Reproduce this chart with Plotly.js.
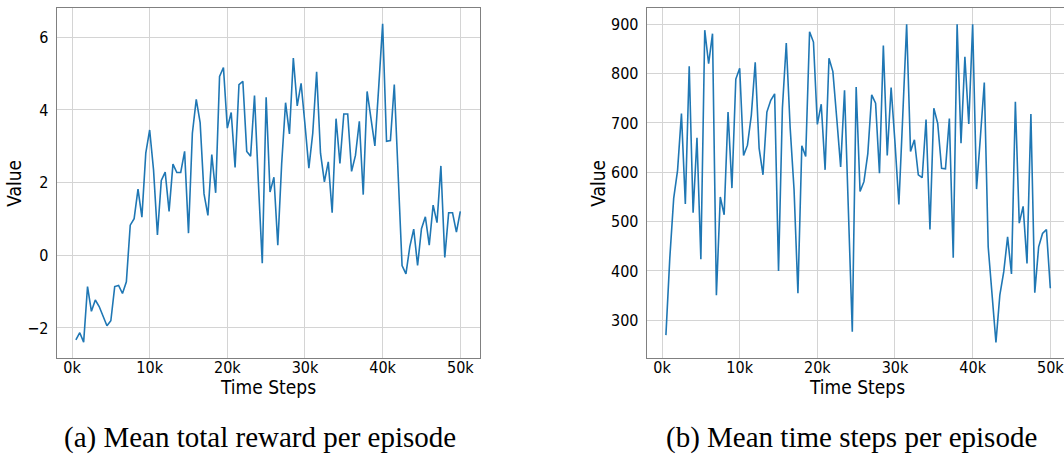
<!DOCTYPE html>
<html>
<head>
<meta charset="utf-8">
<script src="https://cdn.plot.ly/plotly-3.0.1.min.js"></script>
<style>html,body{margin:0;padding:0;background:#fff;}#chart{width:1064px;height:459px;}</style>
</head>
<body>
<div id="chart"></div>
<script>
const steps = [500,1000,1500,2000,2500,3000,3500,4000,4500,5000,5500,6000,6500,7000,7500,8000,8500,9000,9500,10000,
10500,11000,11500,12000,12500,13000,13500,14000,14500,15000,15500,16000,16500,17000,17500,18000,18500,19000,19500,20000,
20500,21000,21500,22000,22500,23000,23500,24000,24500,25000,25500,26000,26500,27000,27500,28000,28500,29000,29500,30000,
30500,31000,31500,32000,32500,33000,33500,34000,34500,35000,35500,36000,36500,37000,37500,38000,38500,39000,39500,40000,
40500,41000,41500,42000,42500,43000,43500,44000,44500,45000,45500,46000,46500,47000,47500,48000,48500,49000,49500,50000];

const meanReward = [-2.33,-2.13,-2.39,-0.86,-1.54,-1.23,-1.41,-1.69,-1.94,-1.80,
-0.86,-0.83,-1.05,-0.73,0.83,1.01,1.82,1.05,2.81,3.45,
2.35,0.56,2.06,2.29,1.21,2.51,2.28,2.28,2.86,0.61,
3.36,4.29,3.65,1.69,1.10,2.77,1.72,4.92,5.17,3.50,
3.93,2.42,4.70,4.79,2.86,2.73,4.40,2.00,-0.22,4.35,
1.74,2.15,0.28,2.53,4.20,3.34,5.43,4.11,4.73,3.60,
2.40,3.36,5.05,2.81,2.02,2.57,1.17,3.76,2.53,3.89,
3.89,2.31,2.75,3.69,1.67,4.51,3.76,3.01,4.65,6.37,
3.14,3.16,4.70,2.20,-0.28,-0.51,0.24,0.72,-0.28,0.73,
1.06,0.28,1.38,0.90,2.46,-0.06,1.17,1.17,0.64,1.21];

const meanTimeSteps = [270,426,547,604,719,536,815,518,670,424,
888,820,881,351,550,514,722,568,789,811,
634,655,716,823,649,595,722,746,759,400,
730,862,690,565,355,654,632,885,864,697,
738,605,831,804,709,611,766,520,277,773,
561,581,638,757,740,598,857,634,772,660,
535,715,900,642,666,595,589,707,484,730,
699,608,607,709,427,900,659,834,698,900,
566,672,782,449,350,255,351,398,469,394,
743,497,531,415,718,356,449,476,484,365];

const xTickVals = [0,10000,20000,30000,40000,50000];
const xTickText = ['0k','10k','20k','30k','40k','50k'];
const yTickValsA = [-2,0,2,4,6];
const yTickTextA = ['\u22122','0','2','4','6'];
const yTickValsB = [300,400,500,600,700,800,900];
const yTickTextB = ['300','400','500','600','700','800','900'];
const xTitle = 'Time Steps';
const yTitle = 'Value';
const captionA = '(a) Mean total reward per episode';
const captionB = '(b) Mean time steps per episode';

const FONT = '"DejaVu Sans Condensed", "DejaVu Sans", sans-serif';
const SERIF = '"Liberation Serif", "Times New Roman", serif';
const SPINE = '#808080';
const GRID = '#d4d4d4';
const LINE = '#1f77b4';

const traces = [
  {x: steps, y: meanReward, type: 'scatter', mode: 'lines', line: {color: LINE, width: 1.6}, xaxis: 'x', yaxis: 'y', hoverinfo: 'skip'},
  {x: steps, y: meanTimeSteps, type: 'scatter', mode: 'lines', line: {color: LINE, width: 1.6}, xaxis: 'x2', yaxis: 'y2', hoverinfo: 'skip'}
];

function xa(domain, range, anchor) {
  return {
    domain: domain, range: range, anchor: anchor,
    tickmode: 'array', tickvals: xTickVals, ticktext: xTickText,
    showgrid: true, gridcolor: GRID, gridwidth: 1, zeroline: false,
    showline: true, linecolor: SPINE, linewidth: 1, mirror: true,
    ticks: '', ticklen: 0, ticklabelstandoff: -6, ticklabeloverflow: 'allow',
    tickfont: {family: FONT, size: 16, color: '#000'},
    automargin: false, fixedrange: true
  };
}
function ya(domain, range, anchor, tv, tt, mirror) {
  return {
    domain: domain, range: range, anchor: anchor,
    tickmode: 'array', tickvals: tv, ticktext: tt,
    showgrid: true, gridcolor: GRID, gridwidth: 1, zeroline: false,
    showline: true, linecolor: SPINE, linewidth: 1, mirror: mirror,
    ticks: 'outside', ticklen: 4, tickcolor: 'rgba(0,0,0,0)', ticklabeloverflow: 'allow',
    tickfont: {family: FONT, size: 16, color: '#000'},
    title: {text: yTitle, font: {family: FONT, size: 19, color: '#000'}, standoff: 0},
    automargin: false, fixedrange: true
  };
}

const layout = {
  width: 1064, height: 459,
  margin: {l: 0, r: 0, t: 0, b: 0},
  paper_bgcolor: '#fff', plot_bgcolor: '#fff',
  showlegend: false,
  xaxis: xa([0.05329, 0.45085], [-1970, 52498], 'y'),
  yaxis: ya([0.21939, 0.98192], [-2.834, 6.798], 'x', yTickValsA, yTickTextA, true),
  xaxis2: xa([0.60780, 1], [-1975, 51763], 'y2'),
  yaxis2: ya([0.21939, 0.98192], [223.0, 932.4], 'x2', yTickValsB, yTickTextB, false),
  annotations: [
    {text: xTitle, xref: 'paper', yref: 'paper', x: 268/1064, y: 1 - 387/459, xanchor: 'center', yanchor: 'middle', showarrow: false,
     font: {family: FONT, size: 19, color: '#000'}},
    {text: xTitle, xref: 'paper', yref: 'paper', x: 857/1064, y: 1 - 387/459, xanchor: 'center', yanchor: 'middle', showarrow: false,
     font: {family: FONT, size: 19, color: '#000'}},
    {text: captionA, xref: 'paper', yref: 'paper', x: 260/1064, y: 1 - 437/459, xanchor: 'center', yanchor: 'middle', showarrow: false,
     font: {family: SERIF, size: 29, color: '#000'}},
    {text: captionB, xref: 'paper', yref: 'paper', x: 851/1064, y: 1 - 437/459, xanchor: 'center', yanchor: 'middle', showarrow: false,
     font: {family: SERIF, size: 29, color: '#000'}}
  ]
};

Plotly.newPlot('chart', traces, layout, {staticPlot: true, displayModeBar: false});
</script>
</body>
</html>
